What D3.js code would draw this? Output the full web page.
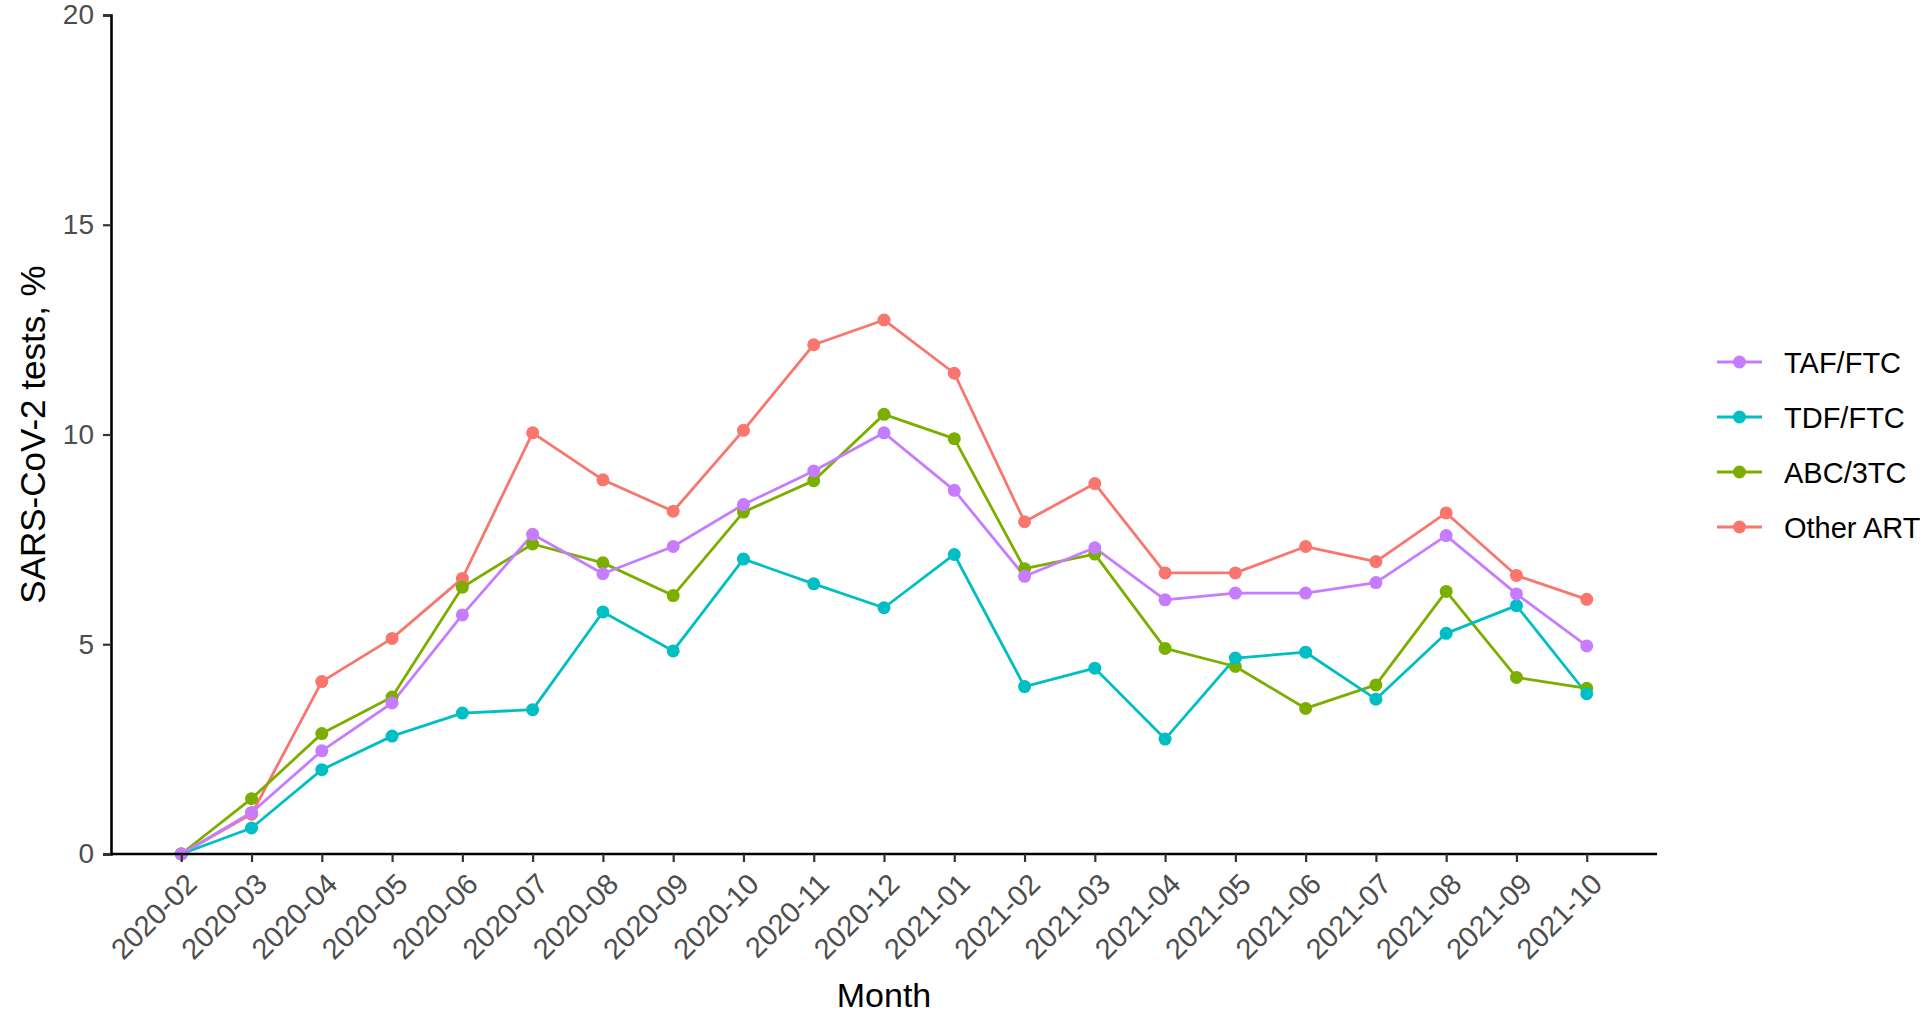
<!DOCTYPE html>
<html>
<head>
<meta charset="utf-8">
<script src="https://cdn.jsdelivr.net/npm/d3@7"></script>
<style>
  body { margin: 0; background: #fff; }
  svg { display: block; font-family: "Liberation Sans", Arial, sans-serif; }
</style>
</head>
<body>
<svg id="chart" width="1920" height="1024"></svg>
<script>
const months = ["2020-02", "2020-03", "2020-04", "2020-05", "2020-06", "2020-07", "2020-08",
  "2020-09", "2020-10", "2020-11", "2020-12", "2021-01", "2021-02", "2021-03", "2021-04",
  "2021-05", "2021-06", "2021-07", "2021-08", "2021-09", "2021-10"];

const tafFtc = [0, 0.99, 2.46, 3.6, 5.7, 7.62, 6.68, 7.33, 8.33, 9.13, 10.04, 8.67, 6.62, 7.3,
  6.06, 6.22, 6.22, 6.47, 7.59, 6.2, 4.96];
const tdfFtc = [0, 0.62, 2.01, 2.81, 3.36, 3.44, 5.77, 4.84, 7.03, 6.44, 5.87, 7.14, 3.99, 4.43,
  2.74, 4.67, 4.81, 3.69, 5.26, 5.92, 3.82];
const abc3tc = [0, 1.32, 2.87, 3.74, 6.36, 7.39, 6.94, 6.16, 8.15, 8.9, 10.48, 9.9, 6.8, 7.15,
  4.9, 4.47, 3.47, 4.03, 6.26, 4.21, 3.95];
const otherArt = [0, 0.95, 4.11, 5.14, 6.57, 10.04, 8.92, 8.17, 10.1, 12.14, 12.73, 11.46, 7.92,
  8.83, 6.7, 6.7, 7.33, 6.97, 8.13, 6.64, 6.07];

const yTicks = [0, 5, 10, 15, 20];

// drawing order follows the factor levels (red first, purple last)
const series = [
  { name: "Other ART", values: otherArt, color: "#F8766D" },
  { name: "ABC/3TC", values: abc3tc, color: "#7CAE00" },
  { name: "TDF/FTC", values: tdfFtc, color: "#00BFC4" },
  { name: "TAF/FTC", values: tafFtc, color: "#C77CFF" }
];
const legendOrder = ["TAF/FTC", "TDF/FTC", "ABC/3TC", "Other ART"];

const svg = d3.select("#chart");
const plotLeft = 111, plotRight = 1657, plotTop = 15, plotBottom = 854;
const dotR = 6.5, lineW = 2.8;

const x = d3.scalePoint().domain(months).range([plotLeft, plotRight]).padding(1);
const y = d3.scaleLinear().domain([0, 20]).range([plotBottom, plotTop]);

// lines
const line = d3.line()
  .x((d, i) => x(months[i]))
  .y(d => y(d));

const lines = svg.append("g");
series.forEach(s => {
  lines.append("path")
    .attr("d", line(s.values))
    .attr("fill", "none")
    .attr("stroke", s.color)
    .attr("stroke-width", lineW)
    .attr("stroke-linejoin", "round");
});

const points = svg.append("g");
series.forEach(s => {
  points.selectAll(null)
    .data(s.values)
    .enter()
    .append("circle")
    .attr("cx", (d, i) => x(months[i]))
    .attr("cy", d => y(d))
    .attr("r", dotR)
    .attr("fill", s.color);
});

// y axis
const yAxis = svg.append("g")
  .attr("transform", `translate(${plotLeft},0)`)
  .call(d3.axisLeft(y).tickValues(yTicks).tickSize(8).tickPadding(9));
yAxis.select(".domain").attr("stroke", "#000").attr("stroke-width", 2.6);
yAxis.selectAll(".tick line").attr("stroke", "#333").attr("stroke-width", 2.2);
yAxis.selectAll(".tick text")
  .attr("fill", "#4D4D4D")
  .style("font-size", "28px")
  .style("font-family", "'Liberation Sans', Arial, sans-serif");

// x axis
const xAxis = svg.append("g")
  .attr("transform", `translate(0,${plotBottom})`)
  .call(d3.axisBottom(x).tickSize(8).tickSizeOuter(0));
xAxis.select(".domain")
  .attr("d", `M${plotLeft},0H${plotRight}`)
  .attr("stroke", "#000").attr("stroke-width", 2.6);
xAxis.selectAll(".tick line").attr("stroke", "#333").attr("stroke-width", 2.2);
xAxis.selectAll(".tick text")
  .attr("fill", "#4D4D4D")
  .style("font-size", "29px")
  .style("font-family", "'Liberation Sans', Arial, sans-serif")
  .attr("text-anchor", "end")
  .attr("x", 0)
  .attr("y", 0)
  .attr("dy", "0.72em")
  .attr("transform", "translate(2,17) rotate(-45)");

// axis titles
svg.append("text")
  .attr("x", (plotLeft + plotRight) / 2)
  .attr("y", 1007)
  .attr("text-anchor", "middle")
  .style("font-size", "34px")
  .attr("fill", "#000")
  .text("Month");

svg.append("text")
  .attr("transform", `translate(45,${(plotTop + plotBottom) / 2}) rotate(-90)`)
  .attr("text-anchor", "middle")
  .style("font-size", "35px")
  .attr("fill", "#000")
  .text("SARS-CoV-2 tests, %");

// legend
const legend = svg.append("g").attr("transform", "translate(1717,362)");
legendOrder.forEach((name, i) => {
  const s = series.find(d => d.name === name);
  const g = legend.append("g").attr("transform", `translate(0,${i * 55})`);
  g.append("line")
    .attr("x1", 0).attr("x2", 45)
    .attr("stroke", s.color).attr("stroke-width", lineW);
  g.append("circle").attr("cx", 22.5).attr("r", dotR).attr("fill", s.color);
  g.append("text")
    .attr("x", 67)
    .attr("y", 10.5)
    .style("font-size", "29px")
    .attr("fill", "#000")
    .text(name);
});
</script>
</body>
</html>
